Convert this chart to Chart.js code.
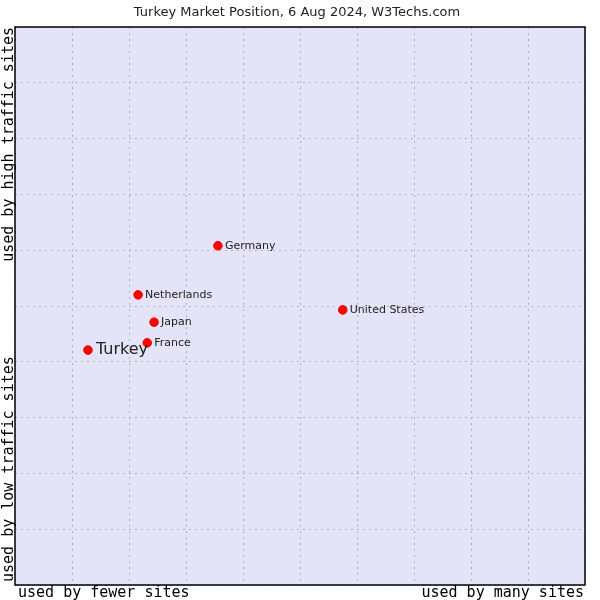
<!DOCTYPE html>
<html>
<head>
<meta charset="utf-8">
<script src="https://cdn.jsdelivr.net/npm/chart.js@4/dist/chart.umd.min.js"></script>
<style>
  body { margin: 0; background: #fff; }
  #wrap { width: 600px; height: 600px; }
</style>
</head>
<body>
<div id="wrap"><canvas id="chart" width="600" height="600"></canvas></div>
<script>
// Data (0..10 scale on both axes)
const countries = ['Turkey', 'France', 'Japan', 'Netherlands', 'Germany', 'United States'];
const siteUsage = [1.28, 2.32, 2.44, 2.16, 3.56, 5.75];   // x: fewer -> many sites
const trafficRank = [4.21, 4.34, 4.71, 5.20, 6.08, 4.93]; // y: low -> high traffic
const highlight = 'Turkey';

const chartTitle = 'Turkey Market Position, 6 Aug 2024, W3Techs.com';
const xLabels = ['used by fewer sites', 'used by many sites'];
const yLabels = ['used by low traffic sites', 'used by high traffic sites'];

const points = countries.map((c, i) => ({ x: siteUsage[i], y: trafficRank[i], label: c }));

const mono = '"DejaVu Sans Mono", monospace';
const sans = '"DejaVu Sans", sans-serif';

// background, border, labels and texts
const decor = {
    id: 'decor',
    beforeDraw(chart) {
        const { ctx, chartArea: a } = chart;
        ctx.save();
        ctx.fillStyle = '#e4e4f8';
        ctx.fillRect(a.left, a.top, a.right - a.left, a.bottom - a.top);
        ctx.restore();
    },
    afterDraw(chart) {
        const { ctx, chartArea: a } = chart;
        ctx.save();
        ctx.strokeStyle = '#000';
        ctx.lineWidth = 1.5;
        ctx.strokeRect(a.left, a.top, a.right - a.left, a.bottom - a.top);

        // title
        ctx.fillStyle = '#222';
        ctx.font = '13px ' + sans;
        ctx.textAlign = 'center';
        ctx.textBaseline = 'middle';
        ctx.fillText(chartTitle, 297, 13);

        // x axis texts
        ctx.fillStyle = '#000';
        ctx.font = '15px ' + mono;
        ctx.textBaseline = 'middle';
        ctx.textAlign = 'left';
        ctx.fillText(xLabels[0], 18, 593);
        ctx.textAlign = 'right';
        ctx.fillText(xLabels[1], 584, 593);

        // y axis texts
        ctx.save();
        ctx.translate(9, 0);
        ctx.rotate(-Math.PI / 2);
        ctx.textAlign = 'left';
        ctx.fillText(yLabels[0], -582, 0);
        ctx.textAlign = 'right';
        ctx.fillText(yLabels[1], -27, 0);
        ctx.restore();

        // point labels
        const meta = chart.getDatasetMeta(0);
        meta.data.forEach((el, i) => {
            const name = points[i].label;
            const big = name === highlight;
            ctx.fillStyle = '#222';
            ctx.font = (big ? '16px ' : '11px ') + sans;
            ctx.textAlign = 'left';
            ctx.textBaseline = 'middle';
            ctx.fillText(name, el.x + (big ? 8 : 7), el.y);
        });
        ctx.restore();
    }
};

const gridOpts = {
    color: '#b4b4b4',
    lineWidth: 1,
    drawTicks: false
};

new Chart(document.getElementById('chart'), {
    type: 'scatter',
    data: {
        datasets: [{
            data: points,
            backgroundColor: '#ff0000',
            borderColor: '#ff0000',
            pointStyle: 'circle',
            pointRadius: 4.3,
            pointHoverRadius: 4.3
        }]
    },
    options: {
        responsive: false,
        animation: false,
        layout: { padding: { left: 15, right: 15, top: 27, bottom: 15 } },
        plugins: {
            legend: { display: false },
            tooltip: { enabled: false }
        },
        scales: {
            x: {
                min: 0, max: 10,
                ticks: { display: false, stepSize: 1 },
                grid: gridOpts,
                border: { display: false, dash: [2, 4] }
            },
            y: {
                min: 0, max: 10,
                ticks: { display: false, stepSize: 1 },
                grid: gridOpts,
                border: { display: false, dash: [2, 4] }
            }
        }
    },
    plugins: [decor]
});
</script>
</body>
</html>
